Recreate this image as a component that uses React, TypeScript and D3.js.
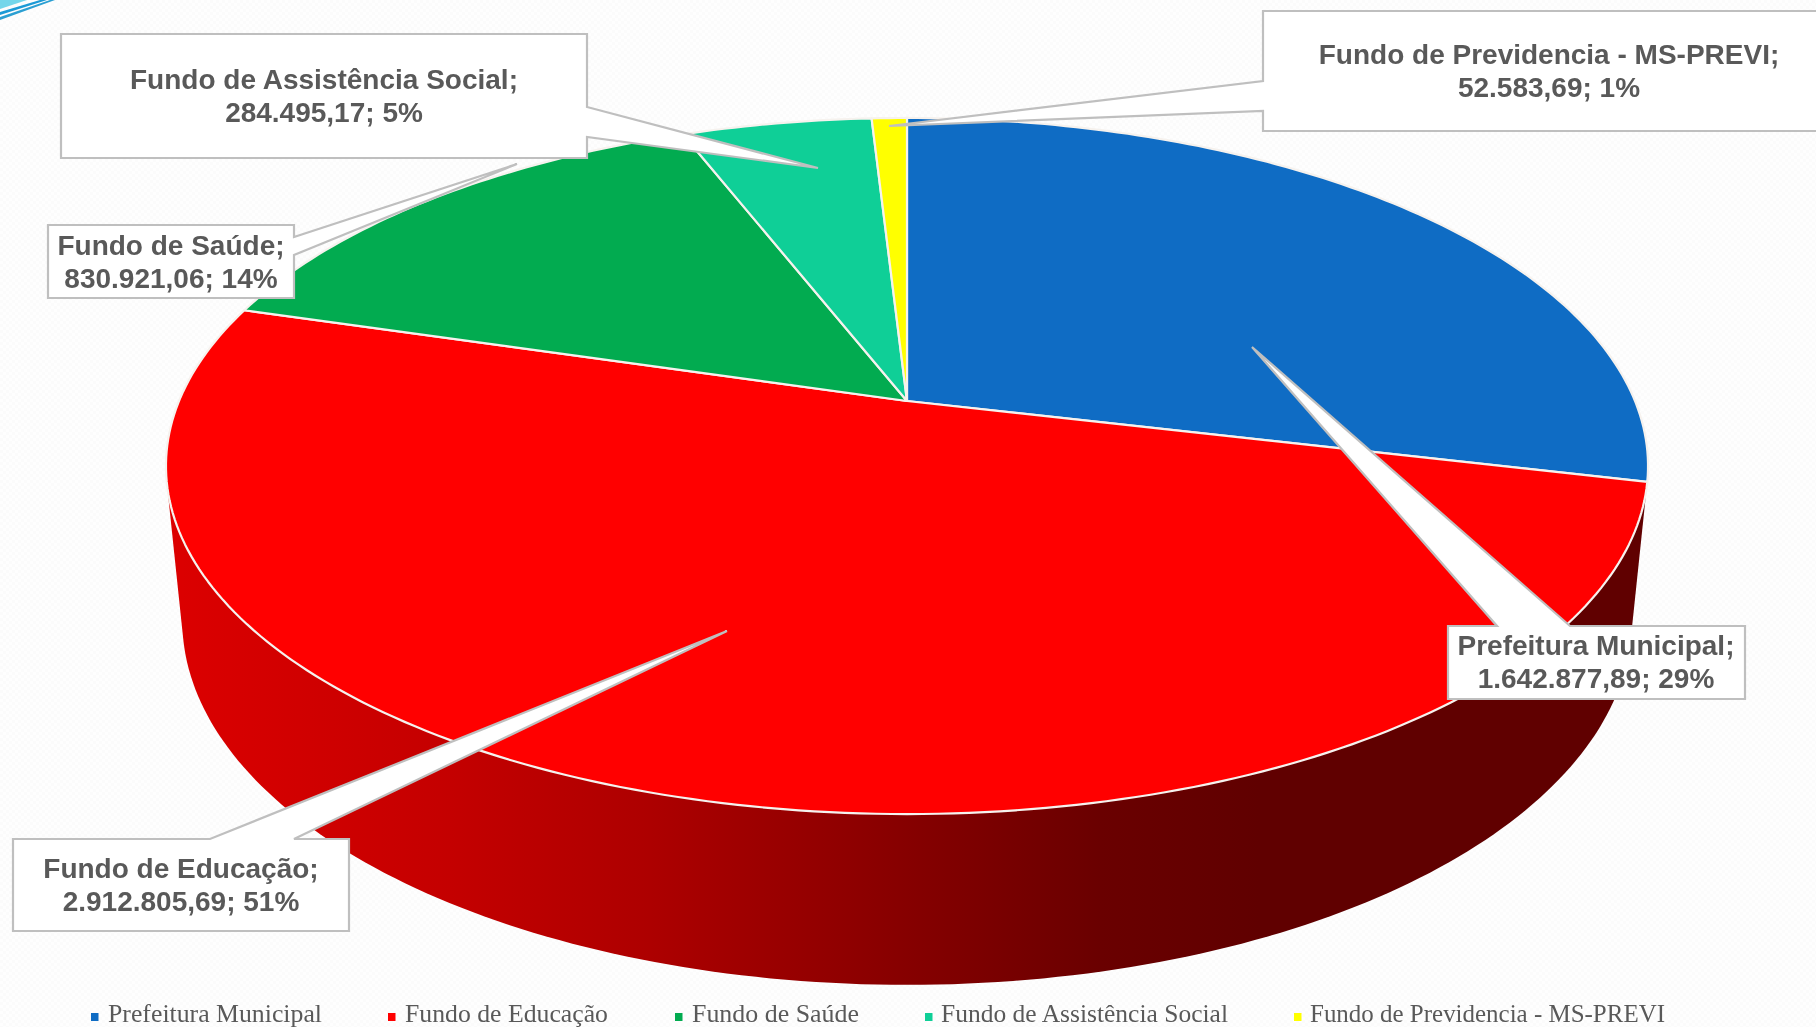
import React from "react";
import * as d3 from "d3";

// Receita por fundo
const categories = [
  "Prefeitura Municipal",
  "Fundo de Educação",
  "Fundo de Saúde",
  "Fundo de Assistência Social",
  "Fundo de Previdencia - MS-PREVI",
];
const values = [1642877.89, 2912805.69, 830921.06, 284495.17, 52583.69];
const percents = [29, 51, 14, 5, 1];
const colors = ["#0f6cc4", "#ff0000", "#02ab50", "#0fcf97", "#ffff00"];

const brLocale = d3.formatLocale({
  decimal: ",",
  thousands: ".",
  grouping: [3],
  currency: ["R$", ""],
});
const fmtValue = brLocale.format(",.2f");

// Projeção em perspectiva do disco: tampo e base
const W = 1816;
const H = 1027;
const persp = -0.1868;
const topPlane = { x0: 907, y0: 401, bx: 728, ay: 335.9 };
const basePlane = { x0: 907, y0: 552, bx: 712, ay: 352 };

const project = (plane: typeof topPlane, angle: number, r = 1): [number, number] => {
  const u = Math.sin(angle) * r;
  const v = -Math.cos(angle) * r;
  const d = 1 + persp * v;
  return [plane.x0 + (plane.bx * u) / d, plane.y0 + (plane.ay * v) / d];
};

const arcSamples = (plane: typeof topPlane, a0: number, a1: number) => {
  const n = Math.max(2, Math.ceil(((a1 - a0) / (Math.PI * 2)) * 360));
  return d3.range(n + 1).map((i) => project(plane, a0 + ((a1 - a0) * i) / n));
};

const pieAngles = d3
  .pie<number>()
  .sort(null)
  .value((d) => d)(values);

const line = d3.line();

// Degradê horizontal da lateral vermelha
const sideStops: [number, string][] = [
  [170, "#dc0000"],
  [450, "#c40000"],
  [650, "#ad0000"],
  [900, "#870000"],
  [1100, "#6a0000"],
  [1260, "#600000"],
  [1650, "#600000"],
];
const sideOffset = d3.scaleLinear().domain([170, 1650]).range([0, 1]);

// Caixas de rótulo: retângulo, ponta e base da seta
type Callout = {
  idx: number;
  box: [number, number, number, number];
  tip: [number, number];
  side: "top" | "left" | "right";
  base: [number, number];
  cx: number;
  baselines: [number, number];
};
const callouts: Callout[] = [
  { idx: 2, box: [48, 225, 294, 298], tip: [517, 164], side: "right", base: [237, 255], cx: 171, baselines: [255, 288] },
  { idx: 3, box: [61, 34, 587, 158], tip: [818, 168], side: "right", base: [107, 137], cx: 324, baselines: [89, 122] },
  { idx: 4, box: [1263, 11, 1840, 131], tip: [889, 126], side: "left", base: [81, 111], cx: 1549, baselines: [64, 97] },
  { idx: 0, box: [1448, 626, 1745, 699], tip: [1252, 347], side: "top", base: [1497, 1570], cx: 1596, baselines: [655, 688] },
  { idx: 1, box: [13, 839, 349, 931], tip: [727, 631], side: "top", base: [210, 294], cx: 181, baselines: [878, 911] },
];

const calloutPath = (c: Callout) => {
  const [x0, y0, x1, y1] = c.box;
  const pts: [number, number][] =
    c.side === "top"
      ? [[x0, y0], [c.base[0], y0], c.tip, [c.base[1], y0], [x1, y0], [x1, y1], [x0, y1]]
      : c.side === "right"
      ? [[x0, y0], [x1, y0], [x1, c.base[0]], c.tip, [x1, c.base[1]], [x1, y1], [x0, y1]]
      : [[x0, y0], [x1, y0], [x1, y1], [x0, y1], [x0, c.base[1]], c.tip, [x0, c.base[0]]];
  return line(pts) + "Z";
};

// Legenda inferior
const legendMarkerX = [91, 388, 675, 925, 1294];
const legendTextX = [108, 405, 692, 941, 1310];
const legendWidths = [214, 203, 167, 287, 355];
const legendBaseline = 1021.7;

const labelFont = "'Liberation Sans', Arial, sans-serif";
const legendFont = "'Liberation Serif', 'Times New Roman', serif";
const textColor = "#595959";

export default function App() {
  const edu = pieAngles[1];
  const sideHull = d3.polygonHull([
    ...arcSamples(topPlane, edu.startAngle, edu.endAngle),
    ...arcSamples(basePlane, edu.startAngle, edu.endAngle),
  ]) as [number, number][];

  return (
    <svg
      width={W}
      height={H}
      viewBox={`0 0 ${W} ${H}`}
      style={{ position: "fixed", left: 0, top: 0, display: "block" }}
    >
      <defs>
        <pattern id="paper" width="6" height="6" patternUnits="userSpaceOnUse">
          <rect width="6" height="6" fill="#fefefe" />
          <rect width="3" height="3" fill="#fbfbfb" />
          <rect x="3" y="3" width="3" height="3" fill="#fbfbfb" />
        </pattern>
        <linearGradient id="side" gradientUnits="userSpaceOnUse" x1={170} y1={0} x2={1650} y2={0}>
          {sideStops.map(([x, c]) => (
            <stop key={x} offset={sideOffset(x)} stopColor={c} />
          ))}
        </linearGradient>
      </defs>

      <rect width={W} height={H} fill="url(#paper)" />

      {/* Detalhe decorativo do canto */}
      <path d="M0 0L27 0L0 9Z" fill="#74d6ea" />
      <path d="M0 12L40 0L47 0L0 15Z" fill="#1b9ad6" />
      <path d="M0 17L50 0L55 0L0 20Z" fill="#2b9fd2" />

      {/* Lateral do disco */}
      <path d={line(sideHull) + "Z"} fill="url(#side)" />

      {/* Tampo: uma fatia por categoria */}
      {pieAngles.map((s, i) => (
        <path
          key={categories[i]}
          d={line([[topPlane.x0, topPlane.y0], ...arcSamples(topPlane, s.startAngle, s.endAngle)]) + "Z"}
          fill={colors[i]}
          stroke="#f6f2ee"
          strokeWidth={2.2}
          strokeLinejoin="round"
        />
      ))}

      {/* Caixas de rótulo */}
      {callouts.map((c) => (
        <g key={c.idx}>
          <path d={calloutPath(c)} fill="#ffffff" stroke="#bfbfbf" strokeWidth={2.2} strokeLinejoin="miter" />
          <text
            x={c.cx}
            y={c.baselines[0]}
            textAnchor="middle"
            fontFamily={labelFont}
            fontWeight={700}
            fontSize={28}
            fill={textColor}
          >
            {categories[c.idx]};
          </text>
          <text
            x={c.cx}
            y={c.baselines[1]}
            textAnchor="middle"
            fontFamily={labelFont}
            fontWeight={700}
            fontSize={28}
            fill={textColor}
          >
            {fmtValue(values[c.idx])}; {percents[c.idx]}%
          </text>
        </g>
      ))}

      {/* Legenda */}
      {categories.map((name, i) => (
        <g key={name}>
          <rect x={legendMarkerX[i]} y={1013} width={7.5} height={8} fill={colors[i]} />
          <text
            x={legendTextX[i]}
            y={legendBaseline}
            fontFamily={legendFont}
            fontSize={24.5}
            fill={textColor}
            textLength={legendWidths[i]}
            lengthAdjust="spacingAndGlyphs"
          >
            {name}
          </text>
        </g>
      ))}
    </svg>
  );
}
